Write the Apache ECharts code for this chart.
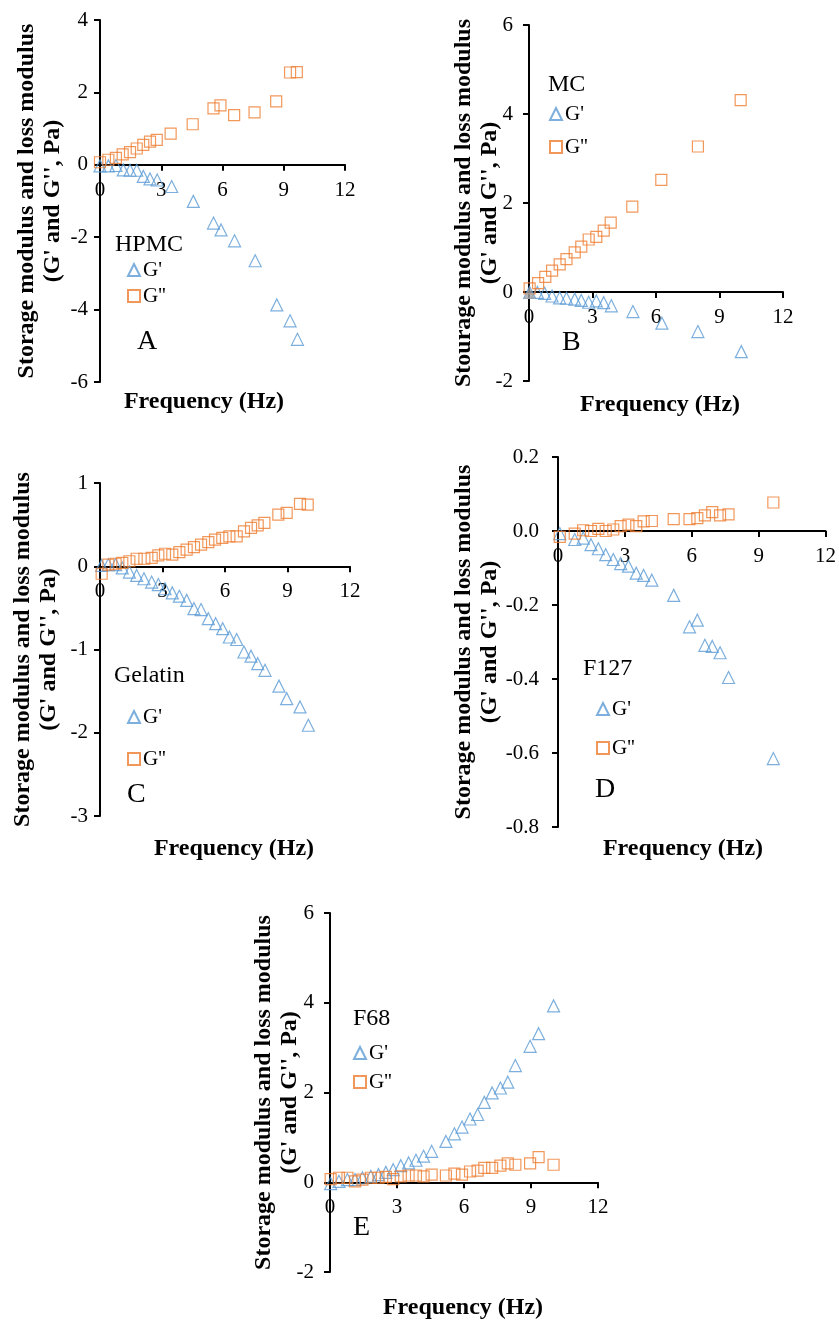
<!DOCTYPE html>
<html>
<head>
<meta charset="utf-8">
<script src="https://cdn.jsdelivr.net/npm/echarts@6/dist/echarts.min.js"></script>
<style>
  html, body { margin: 0; padding: 0; background: #fff; }
  #chart { width: 839px; height: 1322px; }
</style>
</head>
<body>
<div id="chart"></div>
<script>
// [frequency (Hz), modulus (Pa)]
const hpmcG1 = [[0,-0.03],[0.41,-0.03],[0.78,-0.02],[1.14,-0.14],[1.47,-0.15],[1.8,-0.15],[2.12,-0.32],[2.45,-0.39],[2.8,-0.42],[3.51,-0.6],[4.57,-1.01],[5.56,-1.61],[5.93,-1.8],[6.59,-2.1],[7.6,-2.65],[8.66,-3.87],[9.31,-4.31],[9.67,-4.82]];
const hpmcG2 = [[0,0.07],[0.41,0.14],[0.78,0.19],[1.11,0.29],[1.47,0.35],[1.8,0.45],[2.12,0.55],[2.45,0.64],[2.78,0.69],[3.46,0.86],[4.54,1.12],[5.56,1.56],[5.9,1.64],[6.57,1.37],[7.57,1.45],[8.63,1.75],[9.31,2.55],[9.64,2.56]];

const mcG1 = [[0.03,-0.01],[0.4,-0.01],[0.74,-0.03],[1.09,-0.09],[1.45,-0.13],[1.77,-0.14],[2.16,-0.16],[2.47,-0.19],[2.82,-0.23],[3.18,-0.2],[3.53,-0.24],[3.89,-0.31],[4.91,-0.44],[6.28,-0.7],[7.98,-0.89],[10.03,-1.34]];
const mcG2 = [[0.03,0.08],[0.43,0.2],[0.77,0.34],[1.09,0.48],[1.45,0.62],[1.77,0.74],[2.16,0.89],[2.47,1.02],[2.82,1.18],[3.18,1.24],[3.53,1.38],[3.86,1.56],[4.88,1.92],[6.25,2.52],[7.98,3.27],[10.0,4.31]];
const mcExtra = [[0.03,-0.02]];

const gelG1 = [[0.08,0.01],[0.4,0.02],[0.75,0.02],[1.07,-0.02],[1.41,-0.07],[1.76,-0.11],[2.11,-0.15],[2.48,-0.19],[2.8,-0.22],[3.12,-0.27],[3.47,-0.32],[3.81,-0.36],[4.16,-0.41],[4.51,-0.51],[4.85,-0.52],[5.2,-0.63],[5.55,-0.69],[5.89,-0.75],[6.21,-0.85],[6.56,-0.88],[6.91,-1.03],[7.25,-1.08],[7.57,-1.17],[7.92,-1.25],[8.59,-1.44],[8.96,-1.59],[9.6,-1.69],[10.0,-1.91]];
const gelG2 = [[0.08,-0.09],[0.4,0.02],[0.75,0.03],[1.07,0.04],[1.41,0.06],[1.76,0.09],[2.13,0.09],[2.48,0.1],[2.8,0.13],[3.12,0.15],[3.47,0.14],[3.81,0.17],[4.16,0.2],[4.51,0.23],[4.85,0.26],[5.2,0.29],[5.52,0.32],[5.87,0.34],[6.21,0.36],[6.56,0.36],[6.91,0.42],[7.25,0.46],[7.57,0.49],[7.89,0.52],[8.56,0.62],[8.96,0.64],[9.6,0.75],[9.97,0.74]];

const f127G1 = [[0.08,-0.007],[0.75,-0.023],[1.13,-0.019],[1.48,-0.037],[1.81,-0.048],[2.14,-0.064],[2.48,-0.077],[2.81,-0.088],[3.16,-0.095],[3.51,-0.114],[3.84,-0.12],[4.21,-0.133],[5.19,-0.174],[5.9,-0.259],[6.25,-0.241],[6.59,-0.309],[6.92,-0.312],[7.27,-0.329],[7.65,-0.396],[9.66,-0.615]];
const f127G2 = [[0.08,-0.016],[0.75,-0.007],[1.13,0.002],[1.48,0],[1.81,0.006],[2.14,0],[2.48,0.004],[2.81,0.013],[3.16,0.017],[3.51,0.013],[3.84,0.026],[4.21,0.027],[5.19,0.032],[5.9,0.032],[6.25,0.035],[6.59,0.042],[6.92,0.051],[7.27,0.042],[7.65,0.045],[9.66,0.077]];

const f68G1 = [[0.03,-0.03],[0.4,0.02],[0.78,0.06],[1.12,0.06],[1.45,0.1],[1.83,0.13],[2.17,0.17],[2.5,0.22],[2.83,0.28],[3.17,0.37],[3.52,0.43],[3.85,0.49],[4.19,0.58],[4.55,0.69],[5.19,0.91],[5.57,1.08],[5.91,1.23],[6.27,1.41],[6.61,1.51],[6.91,1.78],[7.26,1.99],[7.63,2.1],[7.96,2.23],[8.3,2.6],[8.96,3.03],[9.34,3.31],[10.01,3.93]];
const f68G2 = [[0.03,0.07],[0.4,0.1],[0.78,0.1],[1.12,0.02],[1.45,0.06],[1.83,0.1],[2.17,0.1],[2.5,0.12],[2.83,0.07],[3.17,0.13],[3.52,0.15],[3.85,0.15],[4.19,0.13],[4.55,0.17],[5.19,0.15],[5.57,0.19],[5.91,0.17],[6.27,0.24],[6.61,0.26],[6.91,0.32],[7.26,0.32],[7.63,0.37],[7.96,0.42],[8.3,0.39],[8.96,0.42],[9.34,0.56],[10.01,0.39]];

const xTicks = [0, 3, 6, 9, 12];
const seriesNames = ["G'", "G''"];
const sampleNames = ['HPMC', 'MC', 'Gelatin', 'F127', 'F68'];
const panelLetters = ['A', 'B', 'C', 'D', 'E'];
const yRanges = [[-6, 4, 2], [-2, 6, 2], [-3, 1, 1], [-0.8, 0.2, 0.2], [-2, 6, 2]];
const yTitle = 'Storage modulus and loss modulus\n(G\' and G\'\', Pa)';
const yTitleB = 'Stourage modulus and loss modulus\n(G\' and G\'\', Pa)';

const BLUE = '#5B9BD5';
const ORANGE = '#ED7D31';
const FONT = 'Liberation Serif, Times New Roman, serif';

// layout of each panel (pixels)
const panels = [
  { grid: [100, 20, 245, 362],  nameGap: 34, labelMargin: 12, legend: [133, 270, 26], sample: [115, 245], letter: [137, 342], freq: [204, 402], data: [hpmcG1, hpmcG2], title: yTitle },
  { grid: [529, 25, 254, 356],  nameGap: 26, labelMargin: 16, legend: [555, 114, 33], sample: [548, 85],  letter: [562, 343], freq: [660, 405], data: [mcG1, mcG2], title: yTitleB },
  { grid: [100, 483, 250, 333], nameGap: 38, labelMargin: 12, legend: [133, 717, 42], sample: [114, 676], letter: [127, 795], freq: [234, 849], data: [gelG1, gelG2], title: yTitle },
  { grid: [558, 457, 268, 370], nameGap: 55, labelMargin: 19, legend: [602, 709, 39], sample: [583, 669], letter: [595, 790], freq: [683, 849], data: [f127G1, f127G2], title: yTitle },
  { grid: [330, 913, 268, 359], nameGap: 27, labelMargin: 16, legend: [359, 1053, 29], sample: [353, 1019], letter: [353, 1228], freq: [463, 1308], data: [f68G1, f68G2], title: yTitle }
];

const grid = [], xAxis = [], yAxis = [], series = [], legend = [], graphic = [];

panels.forEach(function (p, i) {
  const r = yRanges[i];
  // x axis sits on y = 0: shift it up from the grid bottom
  const zeroShift = p.grid[3] * (0 - r[0]) / (r[1] - r[0]);
  grid.push({ left: p.grid[0], top: p.grid[1], width: p.grid[2], height: p.grid[3], containLabel: false });
  xAxis.push({
    type: 'value', gridIndex: i, min: xTicks[0], max: xTicks[xTicks.length - 1], interval: 3,
    offset: -zeroShift,
    axisLine: { show: true, onZero: false, lineStyle: { color: '#000', width: 2 } },
    axisTick: { show: true, length: 6, lineStyle: { color: '#000', width: 2 } },
    axisLabel: { color: '#000', fontFamily: FONT, fontSize: 21, margin: 15, showMinLabel: true, showMaxLabel: true },
    splitLine: { show: false }
  });
  yAxis.push({
    type: 'value', gridIndex: i, min: r[0], max: r[1], interval: r[2],
    axisLine: { show: true, onZero: false, lineStyle: { color: '#000', width: 2 } },
    axisTick: { show: true, length: 6, lineStyle: { color: '#000', width: 2 } },
    axisLabel: {
      color: '#000', fontFamily: FONT, fontSize: 21, margin: p.labelMargin,
      formatter: i === 3 ? function (v) { return v.toFixed(1); } : null
    },
    splitLine: { show: false },
    name: p.title, nameLocation: 'middle', nameRotate: 90, nameGap: p.nameGap, nameMoveOverlap: false,
    nameTextStyle: { color: '#000', fontFamily: FONT, fontSize: 24, fontWeight: 'bold', lineHeight: 26 }
  });
  series.push({
    name: seriesNames[0], type: 'scatter', xAxisIndex: i, yAxisIndex: i,
    symbol: 'triangle', symbolSize: 12,
    itemStyle: { color: 'rgba(255,255,255,0)', borderColor: BLUE, borderWidth: 1.2 },
    data: p.data[0]
  });
  series.push({
    name: seriesNames[1], type: 'scatter', xAxisIndex: i, yAxisIndex: i,
    symbol: 'rect', symbolSize: 11,
    itemStyle: { color: 'rgba(255,255,255,0)', borderColor: ORANGE, borderWidth: 1.2 },
    data: p.data[1]
  });
  legend.push({
    orient: 'vertical', left: p.legend[0] - 6, top: p.legend[1] - 11, padding: 0,
    itemWidth: 12, itemHeight: 12, itemGap: p.legend[2] - 22,
    selectedMode: false,
    data: seriesNames,
    textStyle: { color: '#000', fontFamily: FONT, fontSize: 21, lineHeight: 22, padding: [0, 0, 0, -2] }
  });
  graphic.push({
    type: 'text', x: p.sample[0], y: p.sample[1],
    style: { text: sampleNames[i], fill: '#000', font: '24px ' + FONT, textAlign: 'left', textVerticalAlign: 'middle', align: 'left', verticalAlign: 'middle' }
  });
  graphic.push({
    type: 'text', x: p.letter[0], y: p.letter[1],
    style: { text: panelLetters[i], fill: '#000', font: '28px ' + FONT, textAlign: 'left', textVerticalAlign: 'middle', align: 'left', verticalAlign: 'middle' }
  });
  graphic.push({
    type: 'text', x: p.freq[0], y: p.freq[1],
    style: { text: 'Frequency (Hz)', fill: '#000', font: 'bold 24px ' + FONT, textAlign: 'center', textVerticalAlign: 'middle', align: 'center', verticalAlign: 'middle' }
  });
});

// grey marker under the origin of panel B
series.push({
  name: 'extra', type: 'scatter', xAxisIndex: 1, yAxisIndex: 1,
  symbol: 'triangle', symbolSize: 12,
  itemStyle: { color: '#A5A5A5' },
  data: mcExtra
});

const chart = echarts.init(document.getElementById('chart'), null, { renderer: 'canvas' });
chart.setOption({
  backgroundColor: '#fff',
  animation: false,
  textStyle: { fontFamily: FONT },
  grid: grid,
  xAxis: xAxis,
  yAxis: yAxis,
  legend: legend,
  series: series,
  graphic: graphic
});
</script>
</body>
</html>
